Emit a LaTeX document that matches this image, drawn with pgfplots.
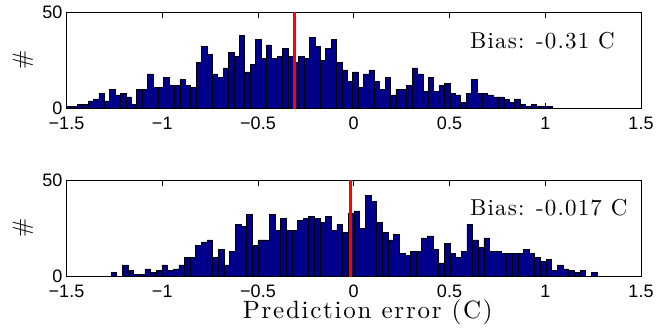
\documentclass[border=0pt]{standalone}
\usepackage{fontspec}
\usepackage{pgfplots}
\pgfplotsset{compat=1.18}
\usepackage{pgfplotstable}
\newfontfamily\ticksf{Liberation Sans}
\newfontfamily\cmten{lmroman10-regular.otf}
\definecolor{barblue}{RGB}{0,0,140}

\pgfplotstableread{
n
1
1
2
2
4
5
8
4
10
7
8
6
2
10
10
18
11
11
16
12
12
15
12
11
24
32
28
18
16
21
29
27
38
19
23
36
26
33
26
27
31
27
24
27
26
37
32
25
31
36
24
20
14
19
11
18
20
14
10
16
7
10
10
12
21
18
9
16
9
12
13
8
7
3
8
15
8
8
7
6
6
5
3
5
2
1
2
1
1
1
0
}\topdata

\pgfplotstableread{
n
2
0
6
3
1
1
4
2
3
6
3
4
6
10
10
16
18
19
10
14
6
13
27
26
32
16
19
19
32
24
30
24
24
29
30
31
30
28
31
24
27
23
33
34
25
42
39
28
23
19
22
12
11
13
13
20
21
14
7
17
12
10
13
27
19
15
20
13
13
12
12
12
12
14
12
10
8
9
3
6
4
3
2
3
0
2
0
}\botdata

\pgfplotsset{
  histaxis/.style={
    scale only axis, width=574.5bp, height=96.5bp,
    xmin=-1.5, xmax=1.5, ymin=0, ymax=50,
    xtick={-1.5,-1,-0.5,0,0.5,1,1.5},
    xticklabels={−1.5,−1,−0.5,0,0.5,1,1.5},
    ytick={0,50}, yticklabels={0,50},
    tick align=inside,
    major tick length=6bp,
    axis line style={line width=0.8bp},
    every tick/.style={black, line width=0.8bp},
    tick label style={font=\ticksf\fontsize{18bp}{18bp}\selectfont},
    xticklabel style={anchor=north, inner sep=0pt, yshift=-8bp},
    yticklabel style={anchor=east, inner sep=0pt, xshift=-4bp},
    ylabel={\#},
    ylabel style={at={(axis description cs:-0.076,0.5)}, anchor=center, inner sep=0pt,
      font=\cmten\fontsize{23bp}{26bp}\selectfont},
  },
}
\tikzset{
  biasnote/.style={anchor=base west, inner sep=0pt,
    font=\cmten\fontsize{23bp}{25bp}\selectfont\addfontfeature{LetterSpace=5}},
}

\begin{document}
\begin{tikzpicture}
\useasboundingbox (0,0) rectangle (668bp,-329bp);
\begin{axis}[histaxis, at={(66.5bp,-12bp)}, anchor=north west]
\addplot[ybar interval, fill=barblue, draw=black, line width=0.5bp]
  table[x expr={-1.5+\coordindex*0.0282}, y=n] {\topdata};
\addplot[red, line width=3.5bp] coordinates {(-0.31,0) (-0.31,50)};
\node[biasnote] at (axis cs:0.607,31.2) {Bias: -0.31 C};
\end{axis}
\begin{axis}[histaxis, at={(66.5bp,-180bp)}, anchor=north west,
  xlabel={\addfontfeature{LetterSpace=7}Prediction error (C)},
  xlabel style={at={(axis description cs:0.5,0)}, anchor=base, yshift=-42bp, xshift=14bp, inner sep=0pt,
    font=\cmten\fontsize{25bp}{28bp}\selectfont}]
\addplot[ybar interval, fill=barblue, draw=black, line width=0.5bp]
  table[x expr={-1.2676+\coordindex*0.0295}, y=n] {\botdata};
\addplot[red, line width=3.5bp] coordinates {(-0.017,0) (-0.017,50)};
\node[biasnote] at (axis cs:0.607,31.4) {Bias: -0.017 C};
\end{axis}
\end{tikzpicture}
\end{document}
